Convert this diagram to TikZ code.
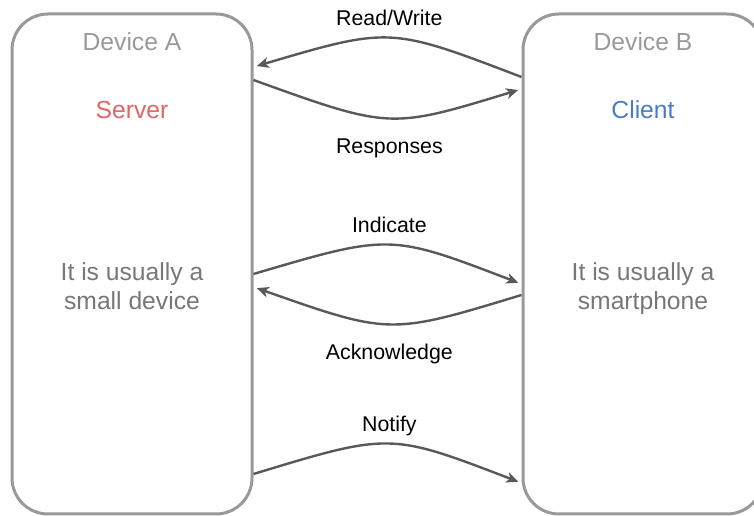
\documentclass[tikz,border=0pt]{standalone}
\usepackage{fontspec}
\setmainfont{Liberation Sans}
\usetikzlibrary{positioning,arrows.meta}
\definecolor{frame}{HTML}{999999}
\definecolor{wire}{HTML}{595959}
\definecolor{serverred}{HTML}{E06666}
\definecolor{clientblue}{HTML}{4A7CC4}
\definecolor{notegray}{HTML}{777777}

\begin{document}
\begin{tikzpicture}[
  x=0.75pt,y=-0.75pt,
  device/.style={draw=frame,line width=2.25pt,rounded corners=27pt,minimum width=180pt,minimum height=375pt},
  title/.style={text=frame,font=\fontsize{18.5}{22}\selectfont},
  role/.style={font=\fontsize{18.5}{22}\selectfont},
  remark/.style={text=notegray,align=center,font=\fontsize{18.5}{21.75}\selectfont},
  msg/.style={font=\fontsize{16}{19}\selectfont,text height=12pt,text depth=3.5pt,inner sep=0pt},
  arrow/.style={-{Stealth[length=9pt,width=8pt,inset=2.5pt]},draw=wire,line width=1.8pt,shorten >=2.6pt}
]
\useasboundingbox (0,0) rectangle (754,516);
\clip (0,0) rectangle (754,516);
\node[device] (devA) at (132,264) {};
\node[device,right=201pt of devA] (devB) {};
\node[title] (nameA) at (132,42) {Device A};
\node[title] (nameB) at (643,42) {Device B};
\node[role,text=serverred] (server) at (132,110) {Server};
\node[role,text=clientblue] (client) at (643,110) {Client};
\node[remark] (noteA) at (132,286.5) {It is usually a\\small device};
\node[remark] (noteB) at (643,289) {It is usually a\\smartphone};
% messages
\draw[arrow] (devB.west |- 0,77) .. controls (390,26.7) .. (devA.east |- 0,67)
  node[msg,pos=0.5,above=4.75pt] (rw) {Read/Write};
\draw[arrow] (devA.east |- 0,80) .. controls (390,129.2) .. (devB.west |- 0,89)
  node[msg,pos=0.5,below=14pt] (resp) {Responses};
\draw[arrow] (devA.east |- 0,274) .. controls (390,233.7) .. (devB.west |- 0,284)
  node[msg,pos=0.5,above=4.75pt] (ind) {Indicate};
\draw[arrow] (devB.west |- 0,295) .. controls (390,335) .. (devA.east |- 0,287)
  node[msg,pos=0.5,below=14pt] (ack) {Acknowledge};
\draw[arrow] (devA.east |- 0,474) .. controls (390,432.5) .. (devB.west |- 0,483)
  node[msg,pos=0.5,above=4.75pt] (ntf) {Notify};
\end{tikzpicture}
\end{document}
